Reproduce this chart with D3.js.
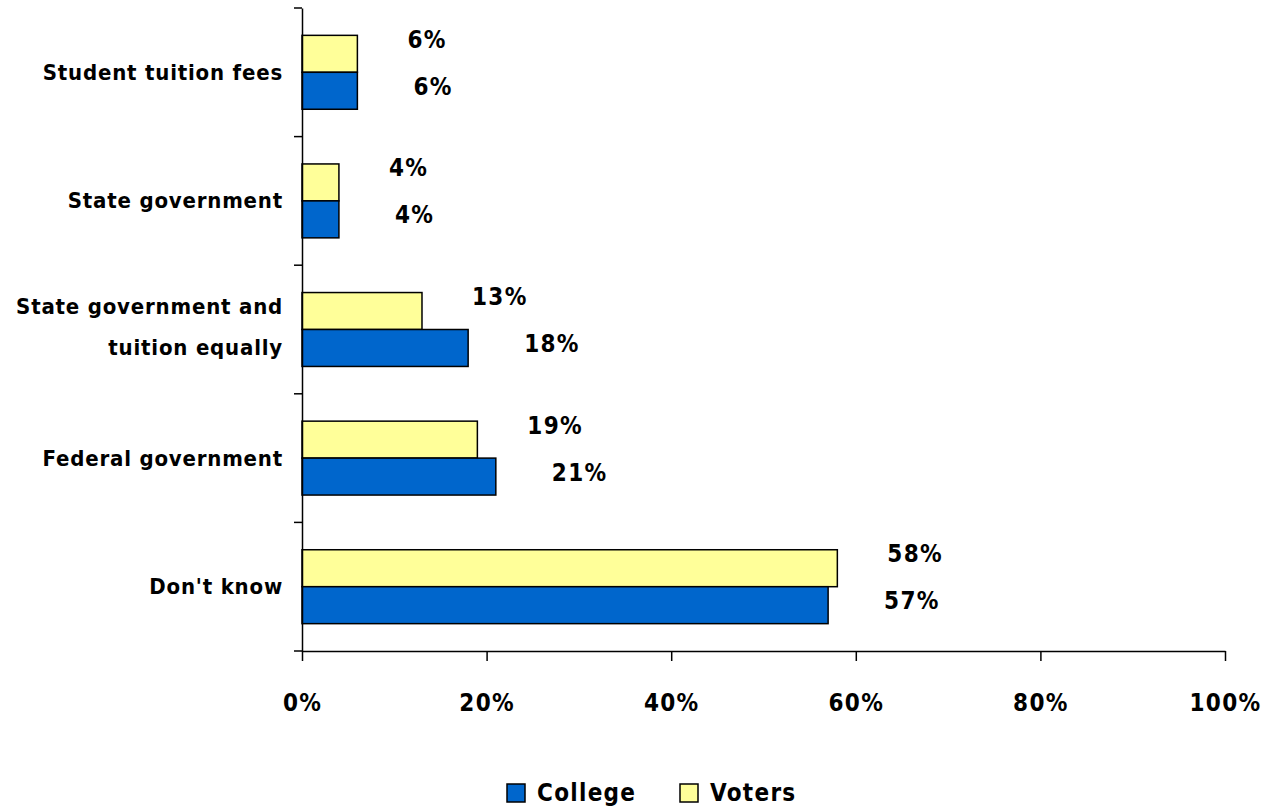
<!DOCTYPE html>
<html><head><meta charset="utf-8">
<script src="https://cdn.jsdelivr.net/npm/d3@7"></script>
<style>
html,body{margin:0;padding:0;background:#fff;}
text{font-family:"DejaVu Sans Condensed","DejaVu Sans",sans-serif;font-stretch:condensed;font-weight:bold;fill:#000;}
</style></head>
<body><svg id="c" width="1268" height="810"></svg>
<script>
const categories = ["Student tuition fees", "State government", "State government and\ntuition equally", "Federal government", "Don't know"];
const voters = [6, 4, 13, 19, 58];
const college = [6, 4, 18, 21, 57];
const seriesNames = ["College", "Voters"];
const xTicks = [0, 20, 40, 60, 80, 100];

(function(){
const colors = {College: "#0066CC", Voters: "#FFFF99"};
const svg = d3.select("#c");
const mLeft = 302, mRight = 1225, mTop = 8, mBottom = 651;
const bigFont = {size: "24px", ls: "1.3px"};

const x = d3.scaleLinear().domain([0, 100]).range([mLeft, mRight]);
const y = d3.scaleBand().domain(categories).range([mTop, mBottom]).paddingInner(0).paddingOuter(0);
const inner = d3.scaleBand().domain(["Voters", "College"]).range([0, y.bandwidth()]).paddingOuter(0.74).paddingInner(0);

const g = svg.append("g");

categories.forEach((c, i) => {
  const gy = y(c);
  const vals = {Voters: voters[i], College: college[i]};
  ["Voters", "College"].forEach(s => {
    g.append("rect")
      .attr("x", x(0)).attr("y", gy + inner(s))
      .attr("width", x(vals[s]) - x(0)).attr("height", inner.bandwidth())
      .attr("fill", colors[s]).attr("stroke", "#000").attr("stroke-width", 1.5);
    const off = s === "Voters" ? 50 : 56;
    const dy = s === "Voters" ? -14 : -4;
    g.append("text")
      .attr("x", x(vals[s]) + off)
      .attr("y", gy + inner(s) + inner.bandwidth() / 2 + dy)
      .attr("dominant-baseline", "central")
      .style("font-size", bigFont.size).style("letter-spacing", bigFont.ls)
      .text(vals[s] + "%");
  });
  const lines = c.split("\n");
  const t = g.append("text").attr("text-anchor", "end").style("font-size", "22px").style("letter-spacing", "0.8px");
  lines.forEach((ln, k) => {
    t.append("tspan").attr("x", mLeft - 19)
      .attr("y", gy + y.bandwidth() / 2 + (lines.length > 1 ? -3 : 0) + (k - (lines.length - 1) / 2) * 41)
      .attr("dominant-baseline", "central").text(ln);
  });
});

// left axis
const yAxis = d3.axisLeft(y).tickSize(0).tickFormat("");
const ya = svg.append("g").attr("transform", `translate(${mLeft},0)`).call(yAxis);
ya.select(".domain").attr("stroke", "#000").attr("stroke-width", 1.5);
const bounds = categories.map(c => y(c)).concat([mBottom]);
ya.selectAll("line.b").data(bounds).enter().append("line").attr("class", "b")
  .attr("x1", -8).attr("x2", 0).attr("y1", d => d).attr("y2", d => d)
  .attr("stroke", "#000").attr("stroke-width", 1.5);

// bottom axis
const xAxis = d3.axisBottom(x).tickValues(xTicks).tickSize(10).tickPadding(33).tickFormat(d => d + "%").tickSizeOuter(0);
const xa = svg.append("g").attr("transform", `translate(0,${mBottom})`).call(xAxis);
xa.select(".domain").attr("stroke", "#000").attr("stroke-width", 1.5);
xa.selectAll(".tick line").attr("stroke", "#000").attr("stroke-width", 1.5);
xa.selectAll(".tick text").style("font-size", bigFont.size).style("letter-spacing", bigFont.ls).attr("fill", "#000");
xa.attr("font-family", null).attr("font-size", null);
ya.attr("font-family", null).attr("font-size", null);

// legend
const legX = [507, 680];
seriesNames.forEach((s, i) => {
  const lg = svg.append("g").attr("transform", `translate(${legX[i]},784)`);
  lg.append("rect").attr("width", 18).attr("height", 18).attr("fill", colors[s]).attr("stroke", "#000").attr("stroke-width", 1.5);
  lg.append("text").attr("x", 30).attr("y", 9).attr("dominant-baseline", "central")
    .style("font-size", bigFont.size).style("letter-spacing", bigFont.ls).text(s);
});
})();
</script></body></html>
